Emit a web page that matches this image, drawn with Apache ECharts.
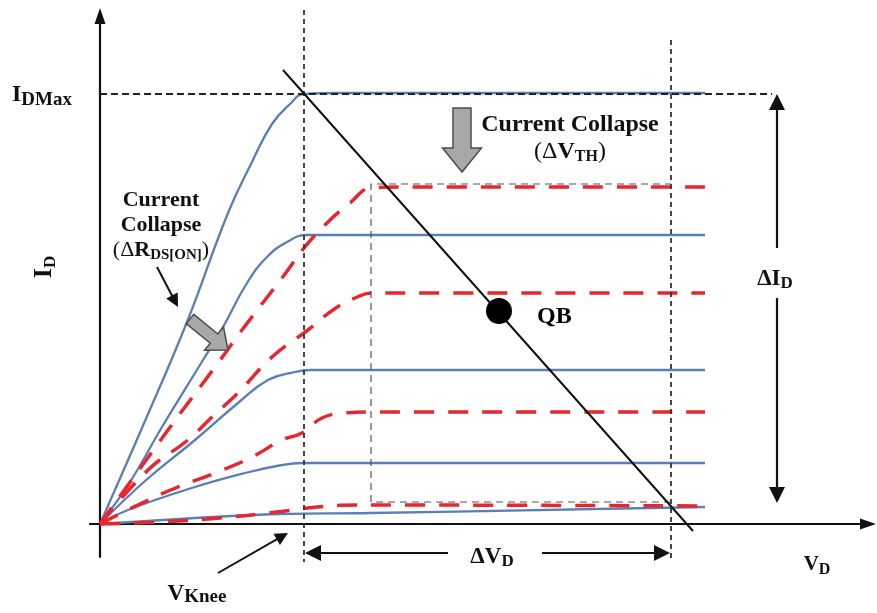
<!DOCTYPE html>
<html>
<head>
<meta charset="utf-8">
<script src="https://cdn.jsdelivr.net/npm/echarts@6/dist/echarts.min.js"></script>
<style>
  html, body { margin: 0; padding: 0; background: #fff; }
  #chart { width: 877px; height: 613px; }
</style>
</head>
<body>
<div id="chart"></div>
<script>
// Drain characteristics I_D(V_D), arbitrary units: [V_D, I_D] pairs.
// Solid curves: fresh device, one per gate step.
const freshVg1 = [[0,0],[45,103],[87,202],[128,311],[152,362],[172,400],[190,420],[204,430],[240,431],[605,431]];
const freshVg2 = [[0,0],[30,42],[62,97],[103,164],[123,197],[147,241],[167,267],[187,282],[207,289],[240,289],[605,289]];
const freshVg3 = [[0,0],[45,43],[95,84],[138,121],[168,144],[195,152],[210,154],[240,154],[605,154]];
const freshVg4 = [[0,0],[28,14],[95,37],[145,51],[182,59],[202,61],[240,61],[605,61]];
const freshVg5 = [[0,0],[80,5],[180,10],[270,11],[605,17]];

// Dashed curves: same gate steps after current collapse.
const collapsedVg1 = [[0,0],[68,94],[118,161],[142,194],[185,250],[204,276],[227,301],[250,321],[271,336],[300,337],[605,337]];
const collapsedVg2 = [[0,0],[48,54],[88,84],[112,107],[138,131],[172,167],[208,194],[233,214],[255,226],[272,231],[300,231],[605,231]];
const collapsedVg3 = [[0,0],[42,21],[78,37],[115,51],[152,67],[182,84],[202,91],[222,106],[245,111],[270,112],[605,112]];
const collapsedVg4 = [[0,0],[60,2],[120,6],[177,12],[217,17],[257,19],[605,18]];

// Reference levels and the operating window
const vKnee = 204;
const vDrainMax = 571;
const iDMax = 430;
const kneeGuide = [[vKnee, 514], [vKnee, -38]];
const drainGuide = [[vDrainMax, 484], [vDrainMax, -38]];
const iDMaxGuide = [[0, iDMax], [672, iDMax]];
const windowOutline = [[571,22],[271,22],[271,340],[571,340]];

// Load line and the bias point QB
const loadLine = [[183,454],[593,-7]];
const qbPoint = [[399,213]];

// Annotation arrows [from, tip]
const bigArrows = [
  [[677,276],[677,430]],
  [[677,226],[677,21]],
  [[348,-29],[205,-29]],
  [[442,-29],[570,-29]]
];
const smallArrows = [
  [[118,-49],[188,-9]],
  [[57,257],[78,217]]
];

const serif = "'Liberation Serif', 'Times New Roman', serif";
const BLUE = '#5a7fb5';
const RED = '#e8262e';
const INK = '#111';

// pull the segment end back so a centred triangle puts its tip on the target
function toSegment(pair, headLen) {
  const [a, b] = pair;
  const dx = b[0] - a[0], dy = b[1] - a[1], d = Math.hypot(dx, dy);
  return { coords: [a, [b[0] - dx / d * headLen / 2, b[1] - dy / d * headLen / 2]] };
}

function blockArrow(tail, tip, shaftW, headW, headLen) {
  const dx = tip[0] - tail[0], dy = tip[1] - tail[1], L = Math.hypot(dx, dy);
  const ux = dx / L, uy = dy / L, nx = -uy, ny = ux;
  const bx = tip[0] - ux * headLen, by = tip[1] - uy * headLen;
  const p = (x, y, s) => [x + nx * s, y + ny * s];
  return [p(tail[0], tail[1], shaftW / 2), p(bx, by, shaftW / 2), p(bx, by, headW / 2), tip,
          p(bx, by, -headW / 2), p(bx, by, -shaftW / 2), p(tail[0], tail[1], -shaftW / 2)];
}

function richSet(main, sub, lh, subLh) {
  return {
    m: { fontSize: main, fontWeight: 'bold', fontFamily: serif, lineHeight: lh },
    p: { fontSize: main, fontWeight: 'normal', fontFamily: serif, lineHeight: lh },
    s: { fontSize: sub, fontWeight: 'bold', fontFamily: serif, lineHeight: subLh, verticalAlign: 'bottom' }
  };
}

function label(x, y, text, rich, align, vAlign, rotation) {
  return {
    type: 'text', x: x, y: y, rotation: rotation || 0, silent: true,
    style: {
      text: text, rich: rich, fill: INK,
      align: align, verticalAlign: vAlign,
      textAlign: align, textVerticalAlign: vAlign,
      font: 'bold 20px ' + serif
    }
  };
}

function curve(data, stressed) {
  return {
    type: 'line', data: data, showSymbol: false, smooth: 0.45,
    clip: false, silent: true, z: stressed ? 3 : 2,
    lineStyle: stressed ? { color: RED, width: 3.5, type: [20, 14] }
                        : { color: BLUE, width: 2.3 }
  };
}

function guide(data, style) {
  return { type: 'line', data: data, showSymbol: false, clip: false, silent: true, z: 4, lineStyle: style };
}

const chart = echarts.init(document.getElementById('chart'), null, { renderer: 'canvas' });

chart.setOption({
  animation: false,
  backgroundColor: '#fff',
  grid: { left: 90, right: 9, top: 16, bottom: 56 },
  xAxis: {
    type: 'value', min: -10, max: 768,
    axisLine: { onZero: true, symbol: ['none', 'triangle'], symbolSize: [11, 16],
                lineStyle: { color: INK, width: 2.2 } },
    axisTick: { show: false }, axisLabel: { show: false }, splitLine: { show: false }
  },
  yAxis: {
    type: 'value', min: -33, max: 508,
    axisLine: { onZero: true, symbol: ['none', 'triangle'], symbolSize: [11, 16],
                lineStyle: { color: INK, width: 2.2 } },
    axisTick: { show: false }, axisLabel: { show: false }, splitLine: { show: false }
  },
  series: [
    curve(freshVg1), curve(freshVg2), curve(freshVg3), curve(freshVg4), curve(freshVg5),
    curve(collapsedVg1, true), curve(collapsedVg2, true), curve(collapsedVg3, true), curve(collapsedVg4, true),
    guide(kneeGuide, { color: '#333', width: 1.8, type: [5, 4] }),
    guide(drainGuide, { color: '#333', width: 1.8, type: [5, 4] }),
    guide(iDMaxGuide, { color: '#222', width: 1.8, type: [7, 4] }),
    guide(windowOutline, { color: '#555', width: 1.2, type: [7, 5] }),
    { type: 'line', data: loadLine, showSymbol: false, clip: false, silent: true, z: 5,
      lineStyle: { color: INK, width: 2 } },
    { type: 'scatter', data: qbPoint, symbolSize: 26, clip: false, silent: true, z: 6,
      itemStyle: { color: '#000', opacity: 1 },
      label: { show: true, formatter: 'QB', position: 'right', distance: 25, offset: [0, 6],
               fontFamily: serif, fontWeight: 'bold', fontSize: 24, color: '#000', opacity: 1 } },
    { type: 'lines', coordinateSystem: 'cartesian2d', clip: false, silent: true, z: 6,
      symbol: ['none', 'triangle'], symbolSize: [13, 16],
      lineStyle: { color: INK, width: 2.2, opacity: 1 },
      data: bigArrows.map(a => toSegment(a, 16)) },
    { type: 'lines', coordinateSystem: 'cartesian2d', clip: false, silent: true, z: 6,
      symbol: ['none', 'triangle'], symbolSize: [9, 13],
      lineStyle: { color: INK, width: 2, opacity: 1 },
      data: smallArrows.map(a => toSegment(a, 13)) }
  ],
  graphic: [
    { type: 'polygon', silent: true, z: 10,
      shape: { points: blockArrow([462, 108], [462, 172], 18, 39, 24) },
      style: { fill: '#a8a8a8', stroke: '#4d4d4d', lineWidth: 1.5 } },
    { type: 'polygon', silent: true, z: 10,
      shape: { points: blockArrow([190, 319], [228, 350], 12, 30, 18) },
      style: { fill: '#a8a8a8', stroke: '#4d4d4d', lineWidth: 1.5 } },
    label(12, 80, '{m|I}{s|DMax}', richSet(24, 19, 30, 19), 'left', 'top'),
    label(44, 267, '{m|I}{s|D}', richSet(26, 17, 30, 15), 'center', 'middle', Math.PI / 2),
    label(161, 188, '{m|Current}\n{m|Collapse}\n{p|(Δ}{m|R}{s|DS[ON]}{p|)}', richSet(22, 15, 25, 14), 'center', 'top'),
    label(570, 111, '{m|Current Collapse}\n{p|(Δ}{m|V}{s|TH}{p|)}', richSet(24, 16, 27, 15), 'center', 'top'),
    label(775, 266, '{m|ΔI}{s|D}', richSet(23, 17, 26, 15), 'center', 'top'),
    label(492, 544, '{m|ΔV}{s|D}', richSet(23, 17, 26, 15), 'center', 'top'),
    label(817, 552, '{m|V}{s|D}', richSet(21, 16, 26, 14), 'center', 'top'),
    label(197, 581, '{m|V}{s|Knee}', richSet(23, 19, 26, 12), 'center', 'top')
  ]
});
</script>
</body>
</html>
